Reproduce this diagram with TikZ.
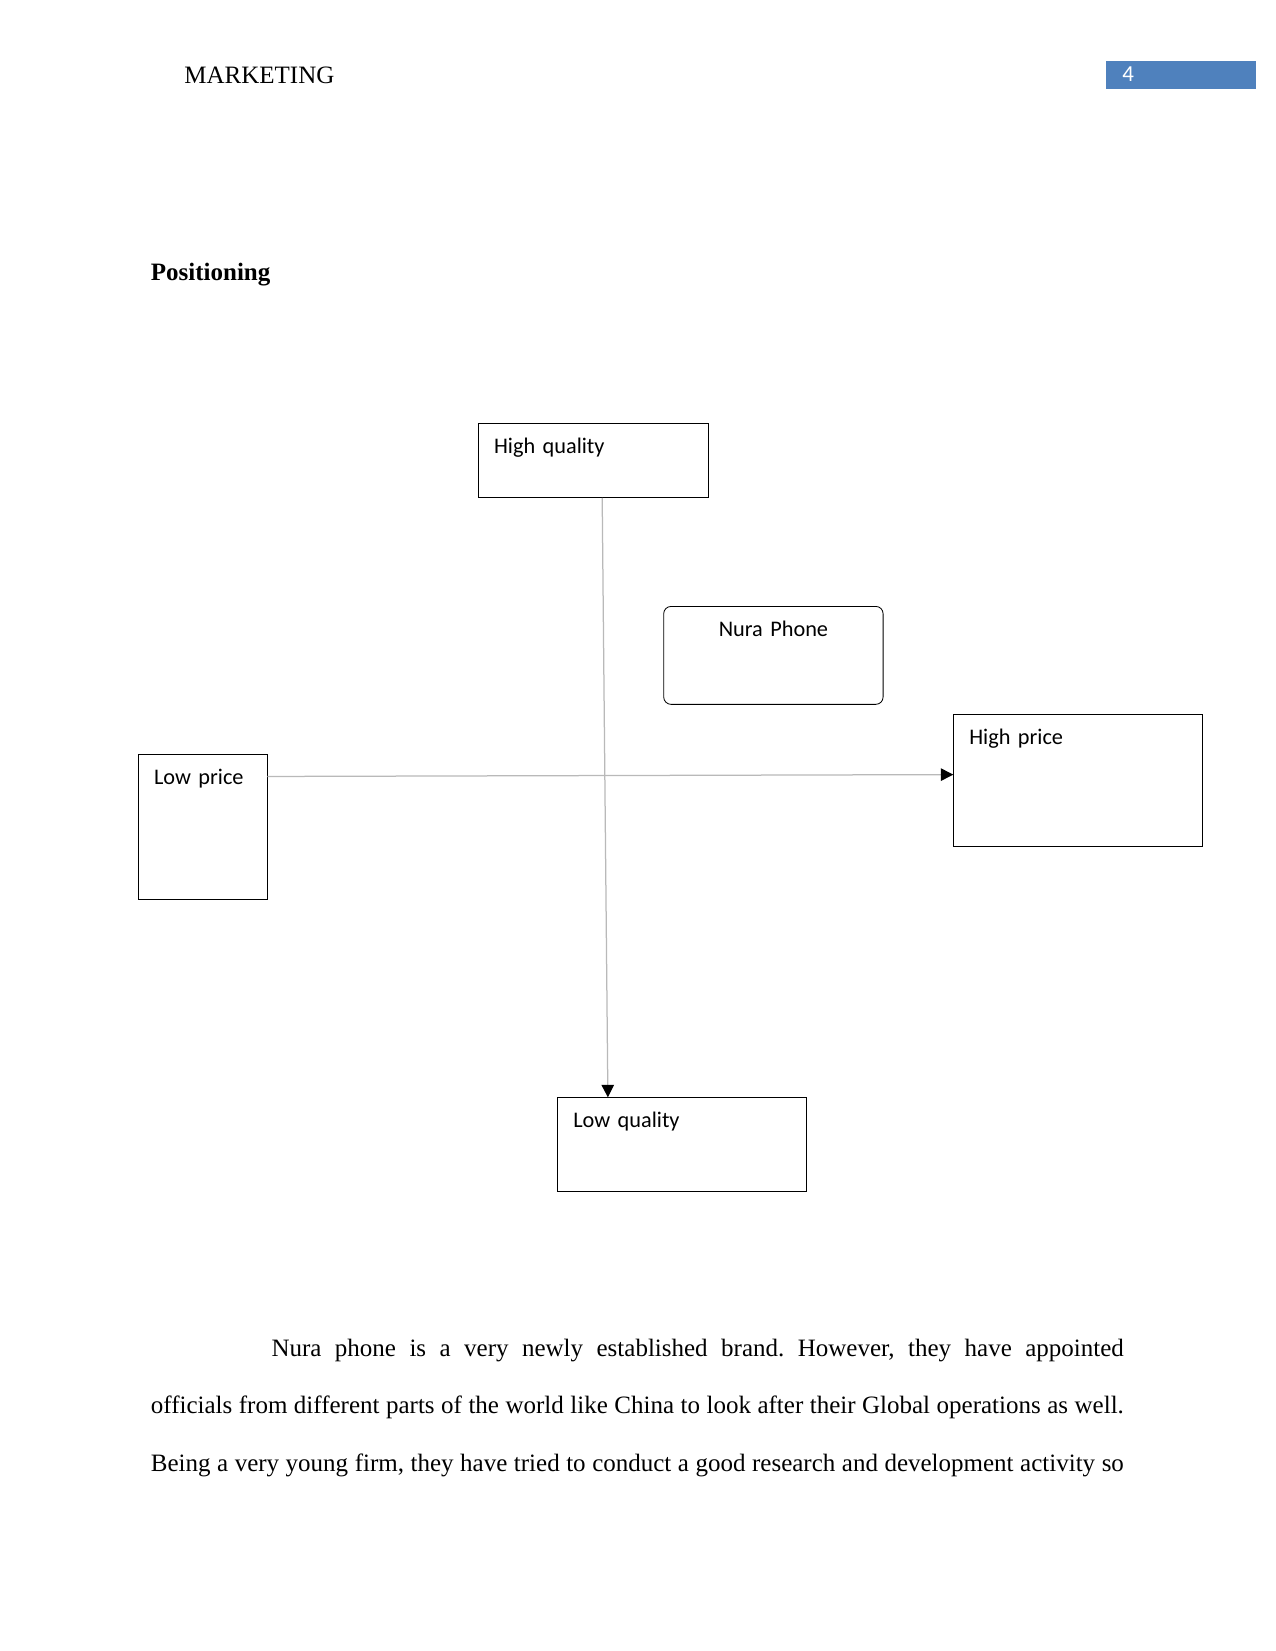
\documentclass[tikz,border=0pt]{standalone}
\usepackage{fontspec}
\setmainfont{Liberation Serif}
\newfontfamily\carlito{Carlito}
\usepackage{xcolor}
\usepackage{tikz}
\usetikzlibrary{
	arrows.meta,
	positioning,
	calc
}
\definecolor{headblue}{HTML}{4F81BD}

\begin{document}
\begin{tikzpicture}[
	x=0.48bp, y=-0.48bp,
	axisbox/.style={
		rectangle, draw, align=left, anchor=north west,
		inner xsep=7.5bp, inner ysep=0pt, text height=14.2bp,
		font=\fontsize{10.7bp}{13bp}\carlito
	},
	brandbox/.style={
		axisbox, rounded corners=3.5bp, align=center
	},
	axisline/.style={
		gray!55, line width=0.6bp,
		-{Triangle[length=6bp, width=6bp, color=black]}
	},
	plaintext/.style={
		inner sep=0pt, anchor=base west, font=\fontsize{12bp}{14bp}\selectfont
	},
	]
	\fill[white] (0,0) rectangle (1275,1651);
	\useasboundingbox (0,0) rectangle (1275,1651);
	
	%header
	\node[plaintext] (header) at (184,83.5) {MARKETING};
	\node[fill=headblue, anchor=north west, inner sep=0pt, minimum width=72.2bp, minimum height=13.4bp] (pagebox) at (1105.5,60.7) {};
	\node[plaintext, text=white, font=\fontsize{11bp}{13bp}\carlito] (pagenum) at (1122,81.7) {4};
	
	\node[plaintext, font=\fontsize{12bp}{14bp}\selectfont\bfseries] (heading) at (150.5,280) {Positioning};
	
	%quality axis
	\node[axisbox, text width=95.4bp, text depth=21.3bp] (highq) at (478,423) {High quality};
	\node[axisbox, text width=104.2bp, text depth=30.8bp] (lowq) at (557.3,1097.3) {Low quality};
	
	%price axis
	\node[axisbox, text width=46.7bp, text depth=55.4bp] (lowp) at (138,754.3) {Low price};
	\node[axisbox, text width=104.2bp, text depth=49bp] (highp) at (953.3,714.3) {High price};
	
	%brand
	\node[brandbox, text width=90.3bp, text depth=32.8bp] (nura) at (663.3,606) {Nura Phone};
	
	\draw[axisline] ($(highq.south west)!0.538!(highq.south east)$) -- ($(lowq.north west)!0.203!(lowq.north east)$);
	\draw[axisline] ($(lowp.north east)!0.152!(lowp.south east)$) -- ($(highp.north west)!0.455!(highp.south west)$);
	
	%body text
	\node[anchor=base west, inner sep=0pt, text width=467bp, align=justify,
		font=\fontsize{12bp}{27.7bp}\selectfont\frenchspacing] (body) at (150.5,1356)
		{\tolerance=9999\hspace*{57.9bp}Nura phone is a very newly established brand. However, they have appointed\linebreak officials from different parts of the world like China to look after their Global operations as well.\linebreak \makebox[467bp][s]{Being a very young firm, they have tried to conduct a good research and development activity so}};
\end{tikzpicture}
\end{document}
